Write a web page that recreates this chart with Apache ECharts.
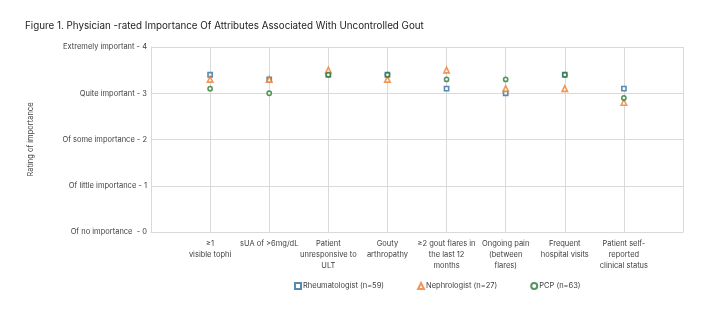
<!DOCTYPE html>
<html>
<head>
<meta charset="utf-8">
<script src="https://cdn.jsdelivr.net/npm/echarts@6/dist/echarts.min.js"></script>
<style>
html,body{margin:0;padding:0;background:#fff;}
#chart{width:704px;height:326px;}
</style>
</head>
<body>
<div id="chart"></div>
<script>
const categories = [
  "≥1\nvisible tophi",
  "sUA of >6mg/dL",
  "Patient\nunresponsive to\nULT",
  "Gouty\narthropathy",
  "≥2 gout flares in\nthe last 12\nmonths",
  "Ongoing pain\n(between\nflares)",
  "Frequent\nhospital visits",
  "Patient self-\nreported\nclinical status"
];
const rheumatologist = [3.4, 3.3, 3.4, 3.4, 3.1, 3.0, 3.4, 3.1];
const nephrologist   = [3.3, 3.3, 3.5, 3.3, 3.5, 3.1, 3.1, 2.8];
const pcp            = [3.1, 3.0, 3.4, 3.4, 3.3, 3.3, 3.4, 2.9];
const yTickLabels = ["Of no importance  - 0", "Of little importance - 1", "Of some importance - 2", "Quite important - 3", "Extremely important - 4"];
const seriesNames = ["Rheumatologist (n=59)", "Nephrologist (n=27)", "PCP (n=63)"];

const axisCats = [""].concat(categories, [""]);
const pad = arr => [null].concat(arr, [null]);

const font = "Inter, 'Open Sans', sans-serif";
const chart = echarts.init(document.getElementById('chart'), null, {renderer: 'canvas'});
function mkSeries(name, data, symbol, color) {
  return {
    name: name, type: 'scatter', data: pad(data), symbol: symbol, symbolSize: symbol === 'triangle' ? 5.5 : 4.2,
    itemStyle: {color: '#fff', borderColor: color, borderWidth: 1.6},
    emphasis: {disabled: true}
  };
}
chart.setOption({
  animation: false,
  title: {
    text: "Figure 1. Physician -rated Importance Of Attributes Associated With Uncontrolled Gout",
    left: 20, top: 16,
    textStyle: {fontFamily: font, fontSize: 9.8, fontWeight: 'normal', color: '#222'}
  },
  grid: {left: 151, right: 21, top: 47, bottom: 94},
  legend: {
    data: seriesNames, left: 289, top: 277, itemWidth: 6, itemHeight: 6, itemGap: 33,
    textStyle: {fontFamily: font, fontSize: 7.5, color: '#404040', padding: [0, 0, 0, -3]}
  },
  xAxis: {
    type: 'category', data: axisCats, boundaryGap: false,
    axisLine: {show: true, lineStyle: {color: '#d9d9d9'}},
    axisTick: {show: false},
    splitLine: {show: true, lineStyle: {color: '#d9d9d9'}},
    axisLabel: {interval: 0, fontFamily: font, fontSize: 7.5, color: '#404040', lineHeight: 11, margin: 6, align: 'center'}
  },
  yAxis: {
    type: 'value', min: 0, max: 4, interval: 1,
    name: 'Rating of importance', nameLocation: 'middle', nameGap: 116, nameRotate: 90,
    nameTextStyle: {fontFamily: font, fontSize: 7.5, color: '#404040'},
    axisLine: {show: true, lineStyle: {color: '#d9d9d9'}},
    axisTick: {show: false},
    splitLine: {show: true, lineStyle: {color: '#d9d9d9'}},
    axisLabel: {fontFamily: font, fontSize: 7.5, color: '#404040', margin: 4,
      formatter: v => yTickLabels[v]}
  },
  series: [
    mkSeries(seriesNames[0], rheumatologist, 'rect', '#2e6e9e'),
    mkSeries(seriesNames[1], nephrologist, 'triangle', '#ed7d31'),
    mkSeries(seriesNames[2], pcp, 'circle', '#2a7a35')
  ]
});
</script>
</body>
</html>
